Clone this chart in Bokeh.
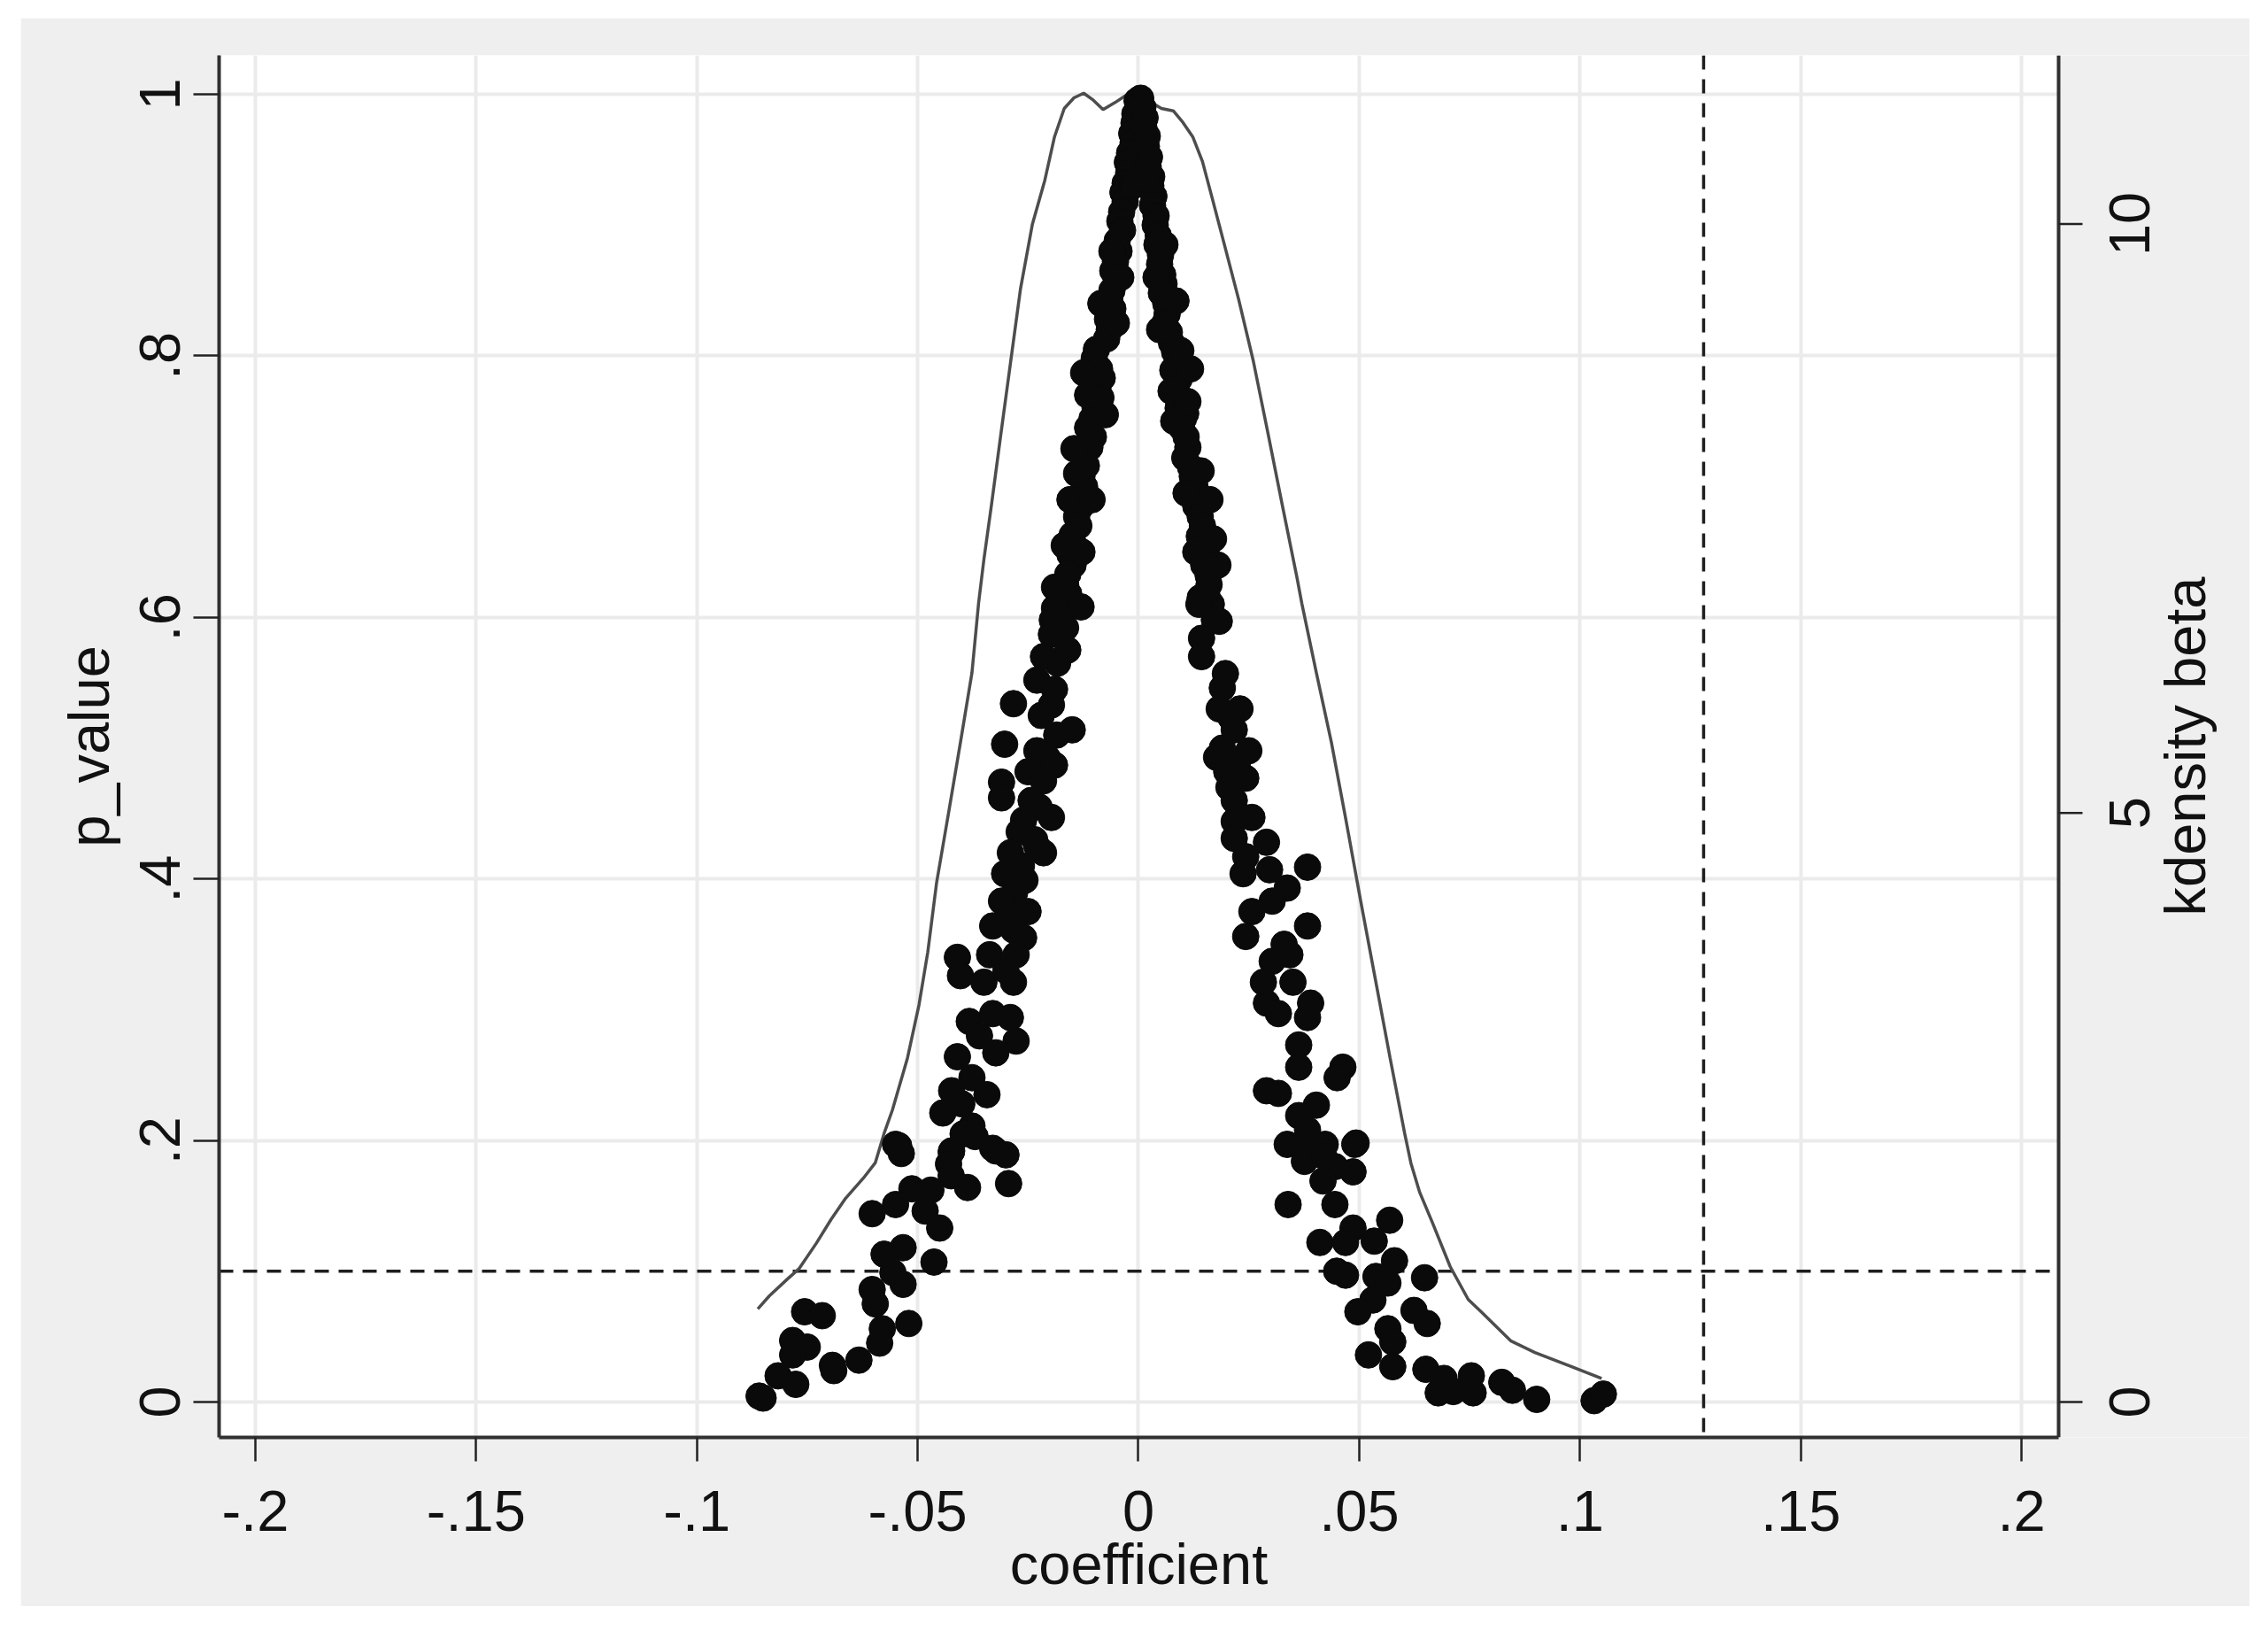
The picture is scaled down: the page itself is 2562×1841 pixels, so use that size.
import math
from bokeh.plotting import figure
from bokeh.models import Range1d, FixedTicker, Span, Label
from bokeh.core.properties import value
from bokeh.embed import file_html
from bokeh.resources import INLINE

# ---------------- data ----------------
x_ticks = [-0.2, -0.15, -0.1, -0.05, 0.0, 0.05, 0.1, 0.15, 0.2]
x_tick_labels = ["-.2", "-.15", "-.1", "-.05", "0", ".05", ".1", ".15", ".2"]
p_ticks = [0.0, 0.2, 0.4, 0.6, 0.8, 1.0]
p_tick_labels = ["0", ".2", ".4", ".6", ".8", "1"]
kd_ticks = [0, 5, 10]
kd_tick_labels = ["0", "5", "10"]
p_threshold = 0.1
true_coefficient = 0.128

# (coefficient, p_value) pairs
left_upper = [
    (-0.0003, 0.995), (0.0002, 0.990), (-0.0008, 0.985), (-0.0010, 0.978), (-0.0015, 0.970),
    (-0.0012, 0.963), (-0.0020, 0.955), (-0.0025, 0.948), (-0.0022, 0.940), (-0.0030, 0.932),
    (-0.0035, 0.925), (-0.0030, 0.918), (-0.0038, 0.910), (-0.0042, 0.903), (-0.0036, 0.896),
    (-0.0048, 0.888), (-0.0044, 0.880), (-0.0052, 0.872), (-0.0058, 0.865), (-0.0050, 0.858),
    (-0.0060, 0.850), (-0.0065, 0.843), (-0.0058, 0.836), (-0.0070, 0.828), (-0.0066, 0.820),
    (-0.0072, 0.813), (-0.0095, 0.805), (-0.0100, 0.798), (-0.0088, 0.790), (-0.0082, 0.783),
    (-0.0092, 0.775), (-0.0085, 0.768), (-0.0098, 0.760), (-0.0105, 0.752), (-0.0115, 0.745),
    (-0.0102, 0.738), (-0.0110, 0.730), (-0.0125, 0.724), (-0.0118, 0.716), (-0.0128, 0.708),
    (-0.0122, 0.700), (-0.0135, 0.692), (-0.0130, 0.685), (-0.0140, 0.677), (-0.0135, 0.670),
    (-0.0150, 0.663), (-0.0145, 0.655), (-0.0155, 0.648), (-0.0148, 0.640), (-0.0160, 0.633),
    (-0.0165, 0.625), (-0.0158, 0.618), (-0.0170, 0.610), (-0.0175, 0.603), (-0.0195, 0.598),
    (-0.0124, 0.787), (-0.0146, 0.729), (-0.0155, 0.690), (-0.0190, 0.623), (-0.0190, 0.607),
    (-0.0130, 0.608), (-0.0012, 0.930), (-0.0060, 0.880), (-0.0040, 0.860), (-0.0085, 0.840),
    (-0.0050, 0.825), (-0.0115, 0.770), (-0.0075, 0.755), (-0.0140, 0.710), (-0.0105, 0.690),
    (-0.0168, 0.655), (-0.0128, 0.650),
]
left_middle = [
    (-0.0190, 0.600), (-0.0197, 0.587), (-0.0165, 0.592), (-0.0183, 0.565), (-0.0160, 0.575),
    (-0.0215, 0.570), (-0.0230, 0.552), (-0.0190, 0.545), (-0.0283, 0.534), (-0.0197, 0.533),
    (-0.0220, 0.525), (-0.0150, 0.514), (-0.0185, 0.510), (-0.0303, 0.503), (-0.0230, 0.498),
    (-0.0205, 0.492), (-0.0190, 0.487), (-0.0250, 0.482), (-0.0310, 0.474), (-0.0215, 0.475),
    (-0.0310, 0.462), (-0.0243, 0.460), (-0.0225, 0.455), (-0.0197, 0.447), (-0.0260, 0.445),
    (-0.0270, 0.436), (-0.0235, 0.430), (-0.0230, 0.425), (-0.0290, 0.420), (-0.0215, 0.420),
    (-0.0265, 0.410), (-0.0303, 0.404), (-0.0257, 0.399), (-0.0280, 0.390), (-0.0310, 0.383),
    (-0.0250, 0.375), (-0.0290, 0.372), (-0.0330, 0.364), (-0.0283, 0.361), (-0.0260, 0.355),
    (-0.0410, 0.340), (-0.0403, 0.326), (-0.0350, 0.321), (-0.0337, 0.342), (-0.0277, 0.342),
    (-0.0283, 0.321), (-0.0300, 0.330), (-0.0383, 0.291), (-0.0330, 0.297), (-0.0290, 0.294),
    (-0.0277, 0.276), (-0.0323, 0.267), (-0.0410, 0.264), (-0.0360, 0.280), (-0.0377, 0.248),
    (-0.0423, 0.238), (-0.0343, 0.235), (-0.0443, 0.221), (-0.0377, 0.211), (-0.0400, 0.228),
    (-0.0550, 0.197), (-0.0423, 0.192), (-0.0323, 0.192),
]
left_lower = [
    (-0.0543, 0.196), (-0.0537, 0.190), (-0.0424, 0.191), (-0.0397, 0.205), (-0.0370, 0.203),
    (-0.0330, 0.194), (-0.0300, 0.189), (-0.0430, 0.182), (-0.0424, 0.173), (-0.0387, 0.164),
    (-0.0294, 0.167), (-0.0513, 0.163), (-0.0470, 0.162), (-0.0550, 0.151), (-0.0483, 0.146),
    (-0.0603, 0.144), (-0.0450, 0.133), (-0.0533, 0.118), (-0.0576, 0.113), (-0.0463, 0.107),
    (-0.0556, 0.099), (-0.0533, 0.090), (-0.0603, 0.086), (-0.0596, 0.075), (-0.0756, 0.069),
    (-0.0716, 0.066), (-0.0520, 0.060), (-0.0580, 0.056), (-0.0783, 0.047), (-0.0750, 0.042),
    (-0.0783, 0.036), (-0.0586, 0.045), (-0.0693, 0.028), (-0.0633, 0.032), (-0.0690, 0.024),
    (-0.0816, 0.020), (-0.0776, 0.0135), (-0.0859, 0.0045), (-0.0850, 0.003),
]
right_upper = [
    (0.0005, 0.997), (0.0010, 0.990), (0.0015, 0.982), (0.0012, 0.975), (0.0020, 0.968),
    (0.0018, 0.960), (0.0025, 0.952), (0.0022, 0.945), (0.0030, 0.937), (0.0028, 0.930),
    (0.0035, 0.922), (0.0032, 0.915), (0.0040, 0.907), (0.0038, 0.900), (0.0045, 0.892),
    (0.0042, 0.885), (0.0050, 0.877), (0.0048, 0.870), (0.0055, 0.862), (0.0058, 0.855),
    (0.0052, 0.848), (0.0062, 0.840), (0.0065, 0.832), (0.0060, 0.825), (0.0070, 0.818),
    (0.0075, 0.810), (0.0082, 0.803), (0.0088, 0.796), (0.0078, 0.789), (0.0092, 0.782),
    (0.0085, 0.775), (0.0095, 0.768), (0.0090, 0.760), (0.0102, 0.752), (0.0098, 0.745),
    (0.0108, 0.738), (0.0112, 0.730), (0.0105, 0.722), (0.0118, 0.715), (0.0122, 0.708),
    (0.0128, 0.700), (0.0135, 0.692), (0.0130, 0.685), (0.0140, 0.677), (0.0145, 0.670),
    (0.0138, 0.662), (0.0150, 0.655), (0.0155, 0.647), (0.0148, 0.640), (0.0158, 0.632),
    (0.0160, 0.625), (0.0155, 0.617), (0.0165, 0.610), (0.0118, 0.790), (0.0096, 0.804),
    (0.0074, 0.773), (0.0107, 0.756), (0.0162, 0.690), (0.0180, 0.640), (0.0140, 0.615),
    (0.0172, 0.598), (0.0015, 0.935), (0.0060, 0.885), (0.0040, 0.860), (0.0085, 0.842),
    (0.0048, 0.820), (0.0112, 0.765), (0.0080, 0.750), (0.0142, 0.712), (0.0108, 0.695),
    (0.0170, 0.660), (0.0130, 0.650),
]
right_middle = [
    (0.0137, 0.610), (0.0183, 0.597), (0.0143, 0.584), (0.0143, 0.570), (0.0197, 0.557),
    (0.0190, 0.546), (0.0183, 0.530), (0.0230, 0.530), (0.0210, 0.523), (0.0217, 0.514),
    (0.0190, 0.500), (0.0250, 0.498), (0.0177, 0.493), (0.0225, 0.490), (0.0200, 0.482),
    (0.0243, 0.477), (0.0205, 0.470), (0.0217, 0.460), (0.0257, 0.447), (0.0217, 0.444),
    (0.0217, 0.431), (0.0290, 0.428), (0.0243, 0.417), (0.0237, 0.404), (0.0297, 0.407),
    (0.0383, 0.409), (0.0337, 0.393), (0.0303, 0.383), (0.0257, 0.375), (0.0243, 0.356),
    (0.0383, 0.364), (0.0330, 0.350), (0.0303, 0.337), (0.0343, 0.342), (0.0283, 0.321),
    (0.0350, 0.321), (0.0290, 0.305), (0.0317, 0.297), (0.0390, 0.305), (0.0383, 0.294),
    (0.0363, 0.273), (0.0363, 0.256), (0.0463, 0.256), (0.0450, 0.248), (0.0290, 0.238),
    (0.0317, 0.236), (0.0403, 0.227), (0.0363, 0.219), (0.0383, 0.208), (0.0337, 0.197),
    (0.0490, 0.197), (0.0423, 0.197),
]
right_lower = [
    (0.0376, 0.194), (0.0493, 0.198), (0.0376, 0.184), (0.0420, 0.188), (0.0445, 0.180),
    (0.0486, 0.176), (0.0418, 0.169), (0.0339, 0.151), (0.0445, 0.151), (0.0569, 0.139),
    (0.0486, 0.133), (0.0411, 0.122), (0.0469, 0.122), (0.0534, 0.123), (0.0580, 0.108),
    (0.0449, 0.100), (0.0469, 0.097), (0.0538, 0.096), (0.0565, 0.091), (0.0648, 0.095),
    (0.0531, 0.078), (0.0497, 0.069), (0.0624, 0.070), (0.0654, 0.060), (0.0565, 0.056),
    (0.0576, 0.046), (0.0521, 0.036), (0.0576, 0.027), (0.0651, 0.025), (0.0692, 0.018),
    (0.0679, 0.007), (0.0713, 0.008), (0.0754, 0.020), (0.0758, 0.007), (0.0823, 0.015),
    (0.0847, 0.009), (0.0902, 0.002), (0.1032, 0.001), (0.1053, 0.006),
]
# kernel density of beta: (coefficient, density)
kdensity_curve = [
    (-0.0862, 0.79), (-0.0836, 0.90), (-0.0796, 1.04), (-0.0769, 1.13), (-0.0729, 1.35),
    (-0.0696, 1.55), (-0.0663, 1.73), (-0.0623, 1.90), (-0.0596, 2.03), (-0.0576, 2.28),
    (-0.0557, 2.48), (-0.0523, 2.92), (-0.0497, 3.37), (-0.0477, 3.82), (-0.0457, 4.41),
    (-0.0430, 5.00), (-0.0403, 5.60), (-0.0377, 6.19), (-0.0362, 6.78), (-0.0350, 7.15),
    (-0.0333, 7.61), (-0.0311, 8.23), (-0.0289, 8.84), (-0.0267, 9.45), (-0.0240, 10.00),
    (-0.0212, 10.37), (-0.0190, 10.74), (-0.0168, 10.98), (-0.0146, 11.07), (-0.0124, 11.11),
    (-0.0102, 11.05), (-0.0080, 10.97), (-0.0053, 11.03), (-0.0025, 11.10), (0.0002, 11.09),
    (0.0030, 11.03), (0.0052, 10.98), (0.0079, 10.96), (0.0101, 10.86), (0.0123, 10.74),
    (0.0145, 10.53), (0.0167, 10.22), (0.0195, 9.82), (0.0227, 9.36), (0.0260, 8.84),
    (0.0293, 8.23), (0.0326, 7.61), (0.0359, 7.00), (0.0370, 6.78), (0.0403, 6.19),
    (0.0437, 5.60), (0.0470, 4.94), (0.0503, 4.26), (0.0537, 3.58), (0.0570, 2.92),
    (0.0603, 2.28), (0.0617, 2.03), (0.0637, 1.78), (0.0665, 1.53), (0.0706, 1.15),
    (0.0747, 0.87), (0.0775, 0.77), (0.0843, 0.52), (0.0898, 0.42), (0.0967, 0.32),
    (0.1049, 0.20),
]

# ---------------- layout constants ----------------
FONT = "Liberation Sans"
FS = "65px"
TXT = "#111111"
GRAY = "#efefef"
AXIS_COL = "#303030"
TICK_COL = "#222222"

PX_PER_X = 4987.5            # screen px per coefficient unit
PX_PER_P = 1477.0            # screen px per p_value unit
x_lo = -0.2082               # left edge of plot region
x_axis_right = 0.2084        # where the right (density) axis sits
x_hi = x_axis_right + 216 / PX_PER_X   # frame extends over the right margin
y_lo, y_hi = -0.0271, 1.0298
kd_lo, kd_hi = -0.3005, 11.431

# ---------------- build ----------------
points = left_upper + left_middle + left_lower + right_upper + right_middle + right_lower
coef = [c for c, _ in points]
pval = [v for _, v in points]
kd_x = [c for c, _ in kdensity_curve]
kd_y = [d for _, d in kdensity_curve]

p = figure(
    width=2518, height=1794,
    x_range=Range1d(x_lo, x_hi), y_range=Range1d(y_lo, y_hi),
    output_backend="svg", toolbar_location=None,
    min_border_left=224, min_border_right=0, min_border_top=42, min_border_bottom=191,
    background_fill_color="white", border_fill_color=GRAY,
    outline_line_color=None,
)
p.extra_y_ranges = {"kd": Range1d(kd_lo, kd_hi)}


def style_axis(ax, tick_len):
    ax.major_tick_out = tick_len
    ax.major_tick_in = 0
    ax.minor_tick_out = 0
    ax.minor_tick_in = 0
    ax.axis_line_width = 4
    ax.axis_line_color = AXIS_COL
    ax.major_tick_line_width = 2.5
    ax.major_tick_line_color = TICK_COL
    ax.major_label_text_font = FONT
    ax.major_label_text_font_size = FS
    ax.major_label_text_color = TXT
    ax.axis_label_text_font = FONT
    ax.axis_label_text_font_size = FS
    ax.axis_label_text_font_style = "normal"
    ax.axis_label_text_color = TXT


xa = p.xaxis[0]
xa.ticker = FixedTicker(ticks=x_ticks)
xa.major_label_overrides = dict(zip(x_ticks, x_tick_labels))
xa.bounds = (x_lo, x_axis_right)
style_axis(xa, 27)
xa.major_label_standoff = 33

# x-axis title, centred on the plotted coefficient span (placed in the bottom panel)
p.add_layout(Label(x=(x_lo + x_axis_right) / 2, y=y_lo - 143 / PX_PER_P,
                   text="coefficient", text_align="center", text_baseline="alphabetic",
                   text_font=FONT, text_font_size=FS, text_color=TXT), "below")

ya = p.yaxis[0]
ya.ticker = FixedTicker(ticks=p_ticks)
ya.major_label_overrides = dict(zip(p_ticks, p_tick_labels))
ya.axis_label = "p_value"
style_axis(ya, 29)
ya.major_label_orientation = "vertical"
ya.major_label_standoff = 15
ya.axis_label_standoff = 19

for g in (p.xgrid[0], p.ygrid[0]):
    g.grid_line_color = "#ebebeb"
    g.grid_line_width = 4

p.add_layout(Span(location=p_threshold, dimension="width", line_dash="16 11",
                  line_width=3.5, line_color="#1e1e1e", level="underlay"))
p.add_layout(Span(location=true_coefficient, dimension="height", line_dash="16 11",
                  line_width=3.5, line_color="#1e1e1e", level="underlay"))

# grey margin to the right of the density axis
p.quad(left=[x_axis_right], right=[x_hi + 0.05], bottom=[y_lo - 1], top=[y_hi + 1],
       fill_color=GRAY, line_color=None)

# density (right) axis: line, ticks, upward-reading labels and title
p.segment(x0=[x_axis_right], y0=[y_lo], x1=[x_axis_right], y1=[y_hi],
          line_width=4, line_color=AXIS_COL)
p.segment(x0=[x_axis_right] * len(kd_ticks), y0=kd_ticks,
          x1=[x_axis_right + 27 / PX_PER_X] * len(kd_ticks), y1=kd_ticks,
          y_range_name="kd", line_width=2.5, line_color=TICK_COL)
p.text(x=[x_axis_right + 80 / PX_PER_X] * len(kd_ticks), y=kd_ticks, text=kd_tick_labels,
       y_range_name="kd", angle=math.pi / 2, text_align="center", text_baseline="middle",
       text_font=value(FONT), text_font_size=value(FS), text_color=TXT)
p.text(x=[x_axis_right + 143 / PX_PER_X], y=[(y_lo + y_hi) / 2], text=["kdensity beta"],
       angle=math.pi / 2, text_align="center", text_baseline="middle",
       text_font=value(FONT), text_font_size=value(FS), text_color=TXT)

p.line(kd_x, kd_y, y_range_name="kd", line_color="#4d4d4d", line_width=3.5)
p.scatter(coef, pval, size=30, marker="circle", fill_color="#0a0a0a",
          line_color="#0a0a0a", line_width=1)

html = file_html(p, INLINE)
html = html.replace("</head>",
                    "<style>body{margin:20px 0 0 23px !important;}</style></head>", 1)
open("out.html", "w").write(html)
